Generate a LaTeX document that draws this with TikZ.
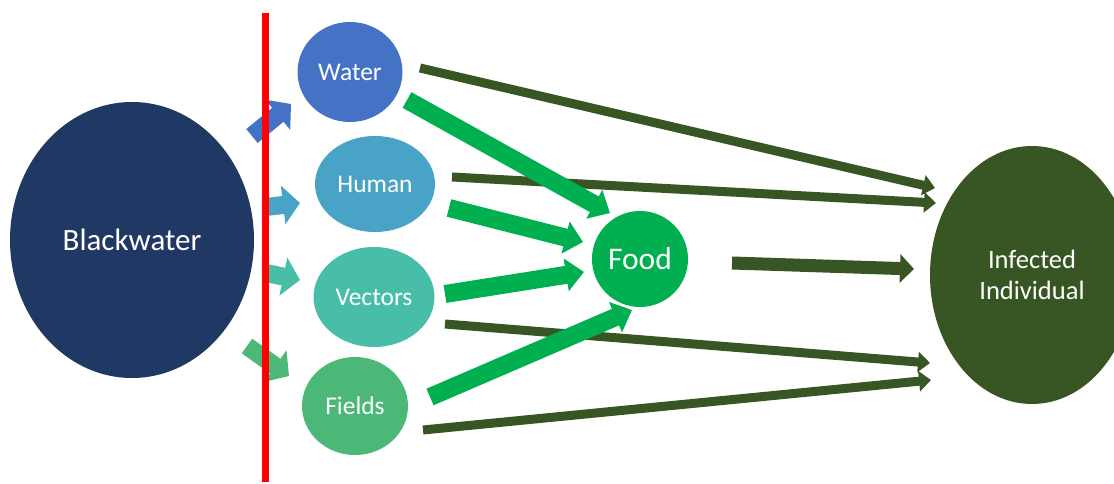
\documentclass[tikz,border=0pt]{standalone}
\usepackage{fontspec}
\setmainfont{Carlito}
\usetikzlibrary{shapes.geometric,arrows.meta}
\definecolor{navy}{RGB}{32,56,100}
\definecolor{cwater}{RGB}{68,114,196}
\definecolor{chuman}{RGB}{73,163,198}
\definecolor{cvect}{RGB}{72,190,168}
\definecolor{cfield}{RGB}{76,184,120}
\definecolor{cfood}{RGB}{0,176,80}
\definecolor{dgreen}{RGB}{55,86,35}
\tikzset{
  blob/.style={ellipse,inner sep=0pt,text=white,align=center},
  smallarrow/.style={line width=18pt,-{Triangle[length=17pt,width=38pt]}},
  foodarrow/.style={draw=cfood,line width=18pt,-{Triangle[length=18pt,width=32pt]}},
  infarrow/.style={draw=dgreen,line width=9pt,-{Triangle[length=12pt,width=20pt]}},
}
\begin{document}
\begin{tikzpicture}[x=1pt,y=-1pt]
\useasboundingbox (0,0) rectangle (1114,484);
\clip (0,0) rectangle (1114,484);
% nodes
\node[blob,fill=navy,minimum width=244pt,minimum height=276pt,font=\fontsize{31}{36}\selectfont] (bw) at (132,240) {Blackwater};
\node[blob,fill=cwater,minimum width=105pt,minimum height=100pt,font=\fontsize{25.5}{30}\selectfont] (water) at (350,72) {Water};
\node[blob,fill=chuman,minimum width=120pt,minimum height=96pt,font=\fontsize{25.5}{30}\selectfont] (human) at (375,184) {Human};
\node[blob,fill=cvect,minimum width=121pt,minimum height=100pt,font=\fontsize{25.5}{30}\selectfont] (vect) at (374,297) {Vectors};
\node[blob,fill=cfield,minimum width=106pt,minimum height=98pt,font=\fontsize{25.5}{30}\selectfont] (field) at (355,406) {Fields};
\node[blob,fill=cfood,minimum width=96pt,minimum height=96pt,font=\fontsize{31.5}{36}\selectfont] (food) at (640,259) {Food};
\node[blob,fill=dgreen,minimum width=204pt,minimum height=258pt,font=\fontsize{26.5}{31}\selectfont] (inf) at (1032,275) {Infected\\Individual};
% arrow end points
\coordinate (bwW) at (252,136); \coordinate (wIn) at (291,104);
\coordinate (bwH) at (266,207); \coordinate (hIn) at (300,203);
\coordinate (bwV) at (266,273); \coordinate (vIn) at (300,280);
\coordinate (bwF) at (247,346); \coordinate (fIn) at (289,376);
\coordinate (wF) at (407,100); \coordinate (fW) at (610,213);
\coordinate (hF) at (449,208); \coordinate (fH) at (583,242);
\coordinate (vF) at (445,294); \coordinate (fV) at (584,272);
\coordinate (fiF) at (430,397); \coordinate (fFi) at (632,310);
\coordinate (wI) at (420,68); \coordinate (iW) at (935,188);
\coordinate (hI) at (452,177); \coordinate (iH) at (936,203);
\coordinate (vI) at (445,324); \coordinate (iV) at (930,363);
\coordinate (fiI) at (423,430); \coordinate (iFi) at (931,380);
\coordinate (foI) at (732,263); \coordinate (iFo) at (914,269);
% small arrows from blackwater
\draw[smallarrow,draw=cwater] (bwW) -- (wIn);
\draw[smallarrow,draw=chuman] (bwH) -- (hIn);
\draw[smallarrow,draw=cvect] (bwV) -- (vIn);
\draw[smallarrow,draw=cfield] (bwF) -- (fIn);
% red line
\coordinate (rtop) at (265,13); \coordinate (rbot) at (265,482);
\draw[red,line width=7pt] (rtop) -- (rbot);
% arrows to infected
\draw[infarrow] (wI) -- (iW);
\draw[infarrow] (hI) -- (iH);
\draw[infarrow] (vI) -- (iV);
\draw[infarrow] (fiI) -- (iFi);
\draw[infarrow,line width=13pt,-{Triangle[length=14pt,width=28pt]}] (foI) -- (iFo);
% arrows to food
\draw[foodarrow] (wF) -- (fW);
\draw[foodarrow] (hF) -- (fH);
\draw[foodarrow] (vF) -- (fV);
\draw[foodarrow] (fiF) -- (fFi);
\end{tikzpicture}
\end{document}
